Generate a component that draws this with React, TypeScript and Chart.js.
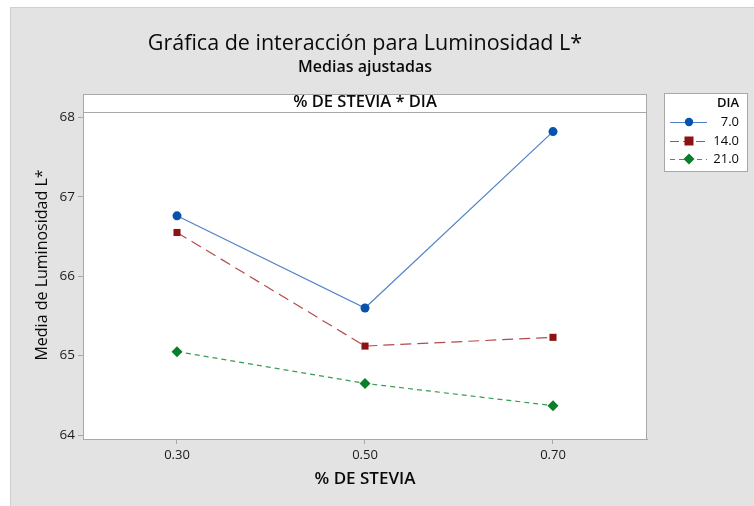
import React, { useEffect, useRef } from 'react';
import { Chart, registerables } from 'chart.js';

Chart.register(...registerables);

const steviaLevels = [0.3, 0.5, 0.7];
const xTickValues = [0.3, 0.5, 0.7];
const yTickValues = [64, 65, 66, 67, 68];
const dia7 = [66.76, 65.6, 67.82];
const dia14 = [66.55, 65.12, 65.23];
const dia21 = [65.05, 64.65, 64.37];
const seriesNames = ['7.0', '14.0', '21.0'];
const chartTitle = 'Gráfica de interacción para Luminosidad L*';
const chartSubtitle = 'Medias ajustadas';
const panelHeader = '% DE STEVIA * DIA';
const xTitle = '% DE STEVIA';
const yTitle = 'Media de Luminosidad L*';
const legendTitle = 'DIA';

const BLUE = '#0652ad';
const RED = '#8e1212';
const GREEN = '#0a7f2a';
const FONT = '"Open Sans", "Noto Sans", sans-serif';

const seriesStyles = [
  { color: BLUE, line: '#4f82c8', dash: [] as number[], point: 'circle', radius: 4.5 },
  { color: RED, line: '#b54a4a', dash: [11, 6], point: 'rect', radius: 5 },
  { color: GREEN, line: '#3a9a55', dash: [5, 4], point: 'rectRot', radius: 5.5 },
];

const decorPlugin = {
  id: 'decor',
  beforeDraw(chart: any) {
    const { ctx, chartArea: ca } = chart;
    const W = chart.width;
    const H = chart.height;
    ctx.save();
    ctx.fillStyle = '#ffffff';
    ctx.fillRect(0, 0, W, H);
    ctx.fillStyle = '#e3e3e3';
    ctx.fillRect(10, 7, W - 10, H - 7);
    ctx.strokeStyle = '#cfcfcf';
    ctx.lineWidth = 1;
    ctx.beginPath();
    ctx.moveTo(10.5, H);
    ctx.lineTo(10.5, 7.5);
    ctx.lineTo(W, 7.5);
    ctx.stroke();

    // plot area
    ctx.fillStyle = '#ffffff';
    ctx.fillRect(ca.left, ca.top, ca.right - ca.left, ca.bottom - ca.top);
    // header box
    const hTop = ca.top - 18;
    ctx.fillRect(ca.left, hTop, ca.right - ca.left, 18);
    ctx.strokeStyle = '#a8a8a8';
    ctx.strokeRect(ca.left + 0.5, hTop + 0.5, ca.right - ca.left - 1, 18);
    ctx.fillStyle = '#0a0a0a';
    ctx.font = `600 16.5px ${FONT}`;
    ctx.textAlign = 'center';
    ctx.textBaseline = 'middle';
    const cx = (ca.left + ca.right) / 2;
    ctx.fillText(panelHeader, cx, hTop + 8);

    // titles
    ctx.font = `400 21.5px ${FONT}`;
    ctx.fillStyle = '#0a0a0a';
    ctx.fillText(chartTitle, cx, 44);
    ctx.font = `600 16px ${FONT}`;
    ctx.fillText(chartSubtitle, cx, 67);

    // axis titles
    ctx.font = `600 17px ${FONT}`;
    ctx.fillText(xTitle, cx, 479);
    ctx.save();
    ctx.translate(42, 265);
    ctx.rotate(-Math.PI / 2);
    ctx.font = `400 16px ${FONT}`;
    ctx.fillText(yTitle, 0, 0);
    ctx.restore();
    ctx.restore();
  },
  afterDraw(chart: any) {
    const { ctx, chartArea: ca } = chart;
    ctx.save();
    ctx.strokeStyle = '#a8a8a8';
    ctx.lineWidth = 1;
    ctx.strokeRect(ca.left + 0.5, ca.top + 0.5, ca.right - ca.left - 1, ca.bottom - ca.top);

    // legend
    const lx = 664, ly = 93, lw = 83, lh = 78;
    ctx.fillStyle = '#ffffff';
    ctx.fillRect(lx, ly, lw, lh);
    ctx.strokeStyle = '#a8a8a8';
    ctx.strokeRect(lx + 0.5, ly + 0.5, lw, lh);
    ctx.fillStyle = '#0a0a0a';
    ctx.textAlign = 'right';
    ctx.textBaseline = 'middle';
    ctx.font = `600 13px ${FONT}`;
    ctx.fillText(legendTitle, 739, 103);
    ctx.font = `400 13px ${FONT}`;
    const rows = [122, 141, 159];
    seriesNames.forEach((name, i) => {
      const st = seriesStyles[i];
      const y = rows[i];
      ctx.strokeStyle = st.line;
      ctx.lineWidth = 1;
      ctx.setLineDash(i === 0 ? [] : i === 1 ? [9, 4] : [5, 4]);
      ctx.beginPath();
      ctx.moveTo(670, y + 0.5);
      ctx.lineTo(707, y + 0.5);
      ctx.stroke();
      ctx.setLineDash([]);
      ctx.fillStyle = st.color;
      const mx = 689;
      if (st.point === 'circle') {
        ctx.beginPath();
        ctx.arc(mx, y, 4.2, 0, Math.PI * 2);
        ctx.fill();
      } else if (st.point === 'rect') {
        ctx.fillRect(mx - 4.5, y - 4.5, 9, 9);
      } else {
        ctx.beginPath();
        ctx.moveTo(mx, y - 5.5);
        ctx.lineTo(mx + 5.5, y);
        ctx.lineTo(mx, y + 5.5);
        ctx.lineTo(mx - 5.5, y);
        ctx.closePath();
        ctx.fill();
      }
      ctx.fillStyle = '#0a0a0a';
      ctx.fillText(name, 739, y);
    });
    ctx.restore();
  },
};

export default function App() {
  const ref = useRef<HTMLCanvasElement | null>(null);
  useEffect(() => {
    if (!ref.current) return;
    const seriesData = [dia7, dia14, dia21];
    const chart = new Chart(ref.current, {
      type: 'line',
      data: {
        datasets: seriesData.map((vals, i) => ({
          label: seriesNames[i],
          data: steviaLevels.map((x, j) => ({ x, y: vals[j] })),
          borderColor: seriesStyles[i].line,
          borderWidth: 1.2,
          borderDash: seriesStyles[i].dash,
          pointStyle: seriesStyles[i].point as any,
          pointRadius: seriesStyles[i].radius,
          pointBackgroundColor: seriesStyles[i].color,
          pointBorderColor: seriesStyles[i].color,
          pointBorderWidth: 0,
          tension: 0,
          fill: false,
        })),
      },
      options: {
        animation: false,
        responsive: false,
        maintainAspectRatio: false,
        layout: { padding: { left: 0, right: 107, top: 112, bottom: 0 } },
        plugins: {
          legend: { display: false },
          title: { display: false },
          tooltip: { enabled: false },
        },
        scales: {
          x: {
            type: 'linear',
            min: 0.2,
            max: 0.8,
            afterBuildTicks: (s: any) => {
              s.ticks = xTickValues.map((v) => ({ value: v }));
            },
            afterFit: (s: any) => {
              s.height = 67;
            },
            ticks: {
              callback: (v: any) => Number(v).toFixed(2),
              color: '#1a1a1a',
              font: { family: FONT, size: 13 },
              padding: 3,
              maxRotation: 0,
            },
            grid: { drawOnChartArea: false, drawTicks: true, tickLength: 5, color: '#a8a8a8' },
            border: { display: true, color: '#a8a8a8' },
          },
          y: {
            type: 'linear',
            min: 63.95,
            max: 68.067,
            afterBuildTicks: (s: any) => {
              s.ticks = yTickValues.map((v) => ({ value: v }));
            },
            afterFit: (s: any) => {
              s.width = 83;
            },
            ticks: {
              callback: (v: any) => String(v),
              color: '#1a1a1a',
              font: { family: FONT, size: 13.5 },
              padding: 3,
            },
            grid: { drawOnChartArea: false, drawTicks: true, tickLength: 5, color: '#a8a8a8' },
            border: { display: true, color: '#a8a8a8' },
          },
        },
      },
      plugins: [decorPlugin],
    });
    return () => chart.destroy();
  }, []);
  return (
    <div style={{ position: 'fixed', left: 0, top: 0, width: 754, height: 506 }}>
      <canvas ref={ref} width={754} height={506} style={{ width: 754, height: 506, display: 'block' }} />
    </div>
  );
}
